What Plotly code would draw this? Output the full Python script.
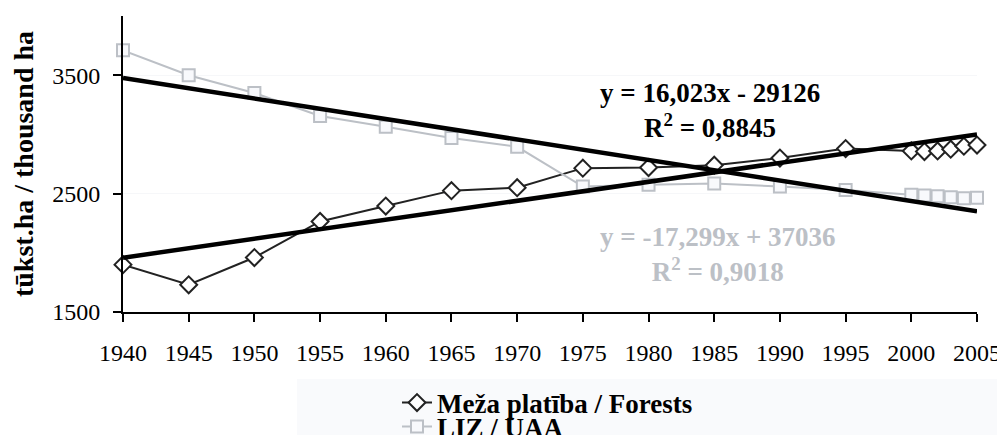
import plotly.graph_objects as go

# Data
years = [1940, 1945, 1950, 1955, 1960, 1965, 1970, 1975, 1980, 1985, 1990, 1995,
         2000, 2001, 2002, 2003, 2004, 2005]
forests = [1900, 1730, 1960, 2265, 2395, 2525, 2550, 2715, 2720, 2740, 2800, 2880,
           2860, 2855, 2860, 2875, 2900, 2910]
liz = [3710, 3500, 3350, 3155, 3065, 2970, 2895, 2560, 2575, 2585, 2560, 2530,
       2490, 2485, 2478, 2470, 2460, 2465]

# trend line coefficients (as printed on the chart)
forest_slope, forest_icpt = 16.023, -29126
liz_slope, liz_icpt = -17.299, 37036
trend_x = [1940, 2005]

FONT = "Liberation Serif, Times New Roman, serif"

# page body has an 8px margin, so the figure is a bit smaller than the window
W, H = 997, 427

fig = go.Figure()

fig.add_trace(go.Scatter(
    x=years, y=forests, mode="lines+markers",
    name="<b>Meža platība / Forests</b>",
    line=dict(color="#222222", width=2),
    marker=dict(symbol="diamond", size=13, color="white",
                line=dict(color="#222222", width=2)),
    cliponaxis=False, legend="legend"))

fig.add_trace(go.Scatter(
    x=years, y=liz, mode="lines+markers",
    name="<b>LIZ / UAA</b>",
    line=dict(color="#bcc0c6", width=2),
    marker=dict(symbol="square", size=12, color="#f8f9fc",
                line=dict(color="#bcc0c6", width=2)),
    cliponaxis=False, legend="legend2"))

# linear trends
fig.add_trace(go.Scatter(
    x=trend_x, y=[forest_slope * x + forest_icpt for x in trend_x],
    mode="lines", line=dict(color="black", width=4.5), showlegend=False,
    cliponaxis=False))
fig.add_trace(go.Scatter(
    x=trend_x, y=[liz_slope * x + liz_icpt for x in trend_x],
    mode="lines", line=dict(color="black", width=4.5), showlegend=False,
    cliponaxis=False))

# equation labels
fig.add_annotation(x=0.687, y=0.682, xref="paper", yref="paper", showarrow=False,
                   xanchor="center", yanchor="middle",
                   text="<b>y = 16,023x - 29126<br>R<sup>2</sup> = 0,8845</b>",
                   font=dict(family=FONT, size=27, color="black"), align="center")
fig.add_annotation(x=0.697, y=0.193, xref="paper", yref="paper", showarrow=False,
                   xanchor="center", yanchor="middle",
                   text="<b>y = -17,299x + 37036<br>R<sup>2</sup> = 0,9018</b>",
                   font=dict(family=FONT, size=27, color="#bcc0c6"), align="center")

# faint legend background
fig.add_shape(type="rect", xref="paper", yref="paper",
              x0=(297 - 123) / 854, x1=1.05, y0=-0.42, y1=(312 - 379) / 296,
              fillcolor="#f9fafc", line=dict(width=0), layer="below")

fig.update_xaxes(
    range=[1940, 2005],
    tickvals=list(range(1940, 2006, 5)),
    showline=True, linewidth=2, linecolor="black",
    ticks="outside", ticklen=8, tickwidth=2, tickcolor="black",
    ticklabelstandoff=10,
    showgrid=False, zeroline=False, automargin=False,
    tickfont=dict(family=FONT, size=24, color="black")
)

fig.update_yaxes(
    range=[1500, 4000],
    tickvals=[1500, 2500, 3500],
    showline=True, linewidth=2, linecolor="black",
    ticks="outside", ticklen=8, tickwidth=2, tickcolor="black",
    ticklabelstandoff=8,
    showgrid=True, gridcolor="#f6f7f9", gridwidth=1, zeroline=False,
    automargin=False,
    tickfont=dict(family=FONT, size=24, color="black"),
    title=dict(text="<b>tūkst.ha / thousand ha</b>", standoff=22,
               font=dict(family=FONT, size=28, color="black"))
)

legend_common = dict(
    xanchor="left", yanchor="middle", xref="paper", yref="container",
    bgcolor="rgba(0,0,0,0)",
    font=dict(family=FONT, size=27, color="black"),
)

fig.update_layout(
    width=W, height=H,
    margin=dict(l=115, r=28, t=8, b=123),
    plot_bgcolor="white", paper_bgcolor="white",
    font=dict(family=FONT, color="black"),
    legend=dict(x=(397 - 123) / 854, y=1 - (403 - 8) / H, **legend_common),
    legend2=dict(x=(397 - 123) / 854, y=1 - (427 - 8) / H, **legend_common),
)

fig.write_html("out.html")
